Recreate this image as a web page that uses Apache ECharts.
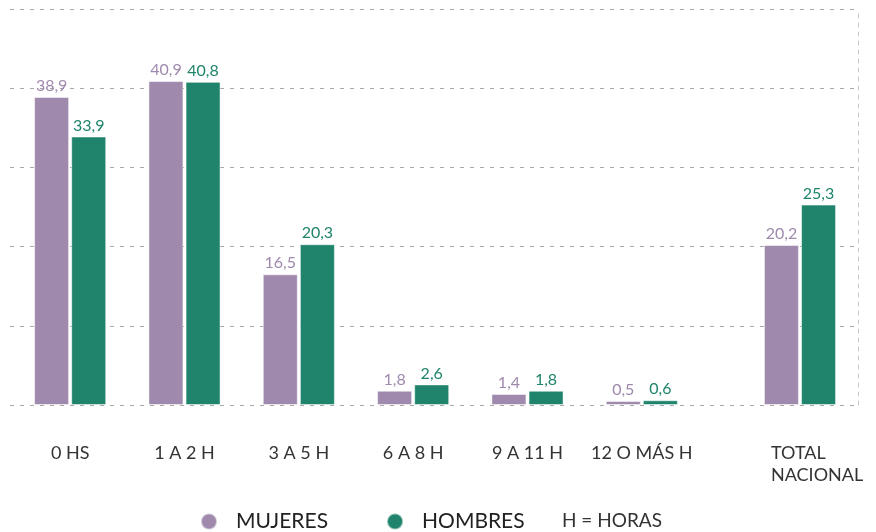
<!DOCTYPE html>
<html>
<head>
<meta charset="utf-8">
<script src="https://cdn.jsdelivr.net/npm/echarts@6/dist/echarts.min.js"></script>
<style>
html, body { margin: 0; padding: 0; background: #fff; }
#chartHoras { width: 876px; height: 532px; }
</style>
</head>
<body>
<div id="chartHoras"></div>
<script>
// categorías y valores (%)
var categorias = ['0 HS', '1 A 2 H', '3 A 5 H', '6 A 8 H', '9 A 11 H', '12 O MÁS H'];
var mujeres = [38.9, 40.9, 16.5, 1.8, 1.4, 0.5];
var hombres = [33.9, 40.8, 20.3, 2.6, 1.8, 0.6];
var categoriaTotal = ['TOTAL NACIONAL'];
var totalMujeres = [20.2];
var totalHombres = [25.3];
var yTicks = [0, 10, 20, 30, 40, 50];

var colorMujeres = '#9f89ad';
var colorHombres = '#1f846b';
var fuente = 'Lato, "Open Sans", sans-serif';

function etiqueta(color) {
    return {
        show: true,
        position: 'top',
        distance: 3,
        color: color,
        fontSize: 16,
        fontFamily: fuente,
        formatter: function (p) { return p.value.toFixed(1).replace('.', ','); }
    };
}

function barra(nombre, datos, color, eje) {
    return {
        name: nombre,
        type: 'bar',
        xAxisIndex: eje,
        yAxisIndex: eje,
        barWidth: 35,
        barGap: '6%',
        itemStyle: { color: color, borderColor: 'rgba(255,255,255,0.5)', borderWidth: 1 },
        label: etiqueta(color),
        data: datos
    };
}

var ejeX = {
    type: 'category',
    axisLine: { show: false },
    axisTick: { show: false },
    axisLabel: {
        interval: 0,
        color: '#333',
        fontSize: 18,
        fontFamily: fuente,
        lineHeight: 22,
        margin: 37
    }
};

var ejeYOculto = {
    type: 'value',
    min: yTicks[0],
    max: yTicks[yTicks.length - 1],
    interval: 10,
    show: false
};

var myChart = echarts.init(document.getElementById('chartHoras'));
var option = {
    backgroundColor: '#fff',
    animation: false,
    grid: [
        { left: 10, right: 18, top: 9, bottom: 127 },
        { left: 13, width: 686, top: 9, bottom: 127 },
        { left: 742, width: 116, top: 9, bottom: 127 }
    ],
    xAxis: [
        { type: 'category', gridIndex: 0, show: false, data: [''] },
        Object.assign({}, ejeX, { gridIndex: 1, data: categorias }),
        Object.assign({}, ejeX, {
            gridIndex: 2,
            data: categoriaTotal,
            axisLabel: Object.assign({}, ejeX.axisLabel, {
                align: 'center',
                formatter: function (v) {
                    return v.split(' ').map(function (s) { return '{t|' + s + '}'; }).join('\n');
                },
                rich: {
                    t: { align: 'left', width: 92, padding: [0, 0, 0, 34], fontSize: 18, lineHeight: 22, fontFamily: fuente, color: '#333' }
                }
            })
        })
    ],
    yAxis: [
        {
            type: 'value',
            gridIndex: 0,
            position: 'right',
            min: yTicks[0],
            max: yTicks[yTicks.length - 1],
            interval: 10,
            axisLabel: { show: false },
            axisTick: { show: false },
            axisLine: { show: true, lineStyle: { color: '#c8c8c8', type: [4, 5] } },
            splitLine: { show: true, lineStyle: { color: '#a8a8a8', type: [4, 6] } }
        },
        Object.assign({}, ejeYOculto, { gridIndex: 1 }),
        Object.assign({}, ejeYOculto, { gridIndex: 2 })
    ],
    legend: {
        left: 200,
        top: 511,
        padding: 0,
        icon: 'circle',
        itemWidth: 16,
        itemHeight: 16,
        itemGap: 58,
        data: ['MUJERES', 'HOMBRES'],
        textStyle: { color: '#222', fontSize: 21, fontFamily: fuente, padding: [0, 0, 0, 14] }
    },
    graphic: [{
        type: 'text',
        left: 562,
        top: 511,
        style: { text: 'H = HORAS', fill: '#333', fontSize: 19, fontFamily: fuente }
    }],
    series: [
        barra('MUJERES', mujeres, colorMujeres, 1),
        barra('HOMBRES', hombres, colorHombres, 1),
        barra('MUJERES', totalMujeres, colorMujeres, 2),
        barra('HOMBRES', totalHombres, colorHombres, 2)
    ]
};
myChart.setOption(option);
</script>
</body>
</html>
